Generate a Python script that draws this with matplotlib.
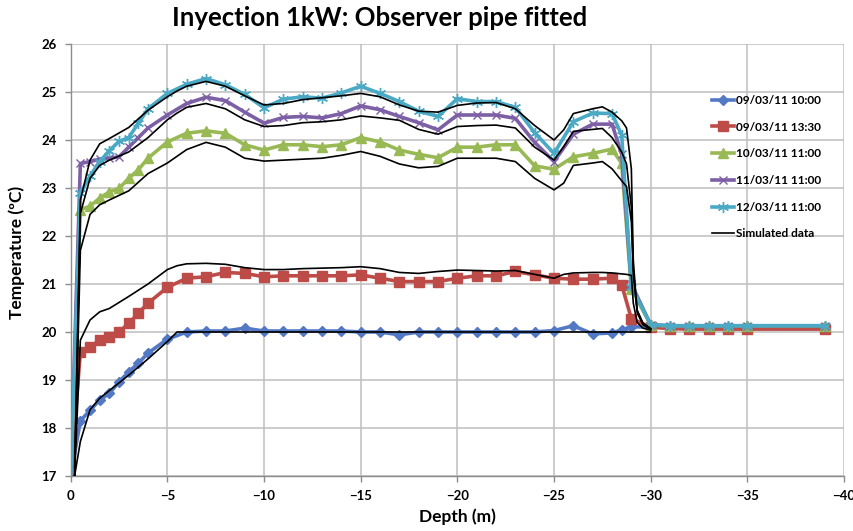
#!/usr/bin/env python3

import matplotlib
matplotlib.use('Agg')
import matplotlib.pyplot as plt

FONT = ['Lato', 'DejaVu Sans']

# measured depths (m) and temperatures (ºC)
DEPTH = [0, -0.5, -1, -1.5, -2, -2.5, -3, -3.5, -4,
         -5, -6, -7, -8, -9, -10, -11, -12, -13, -14, -15, -16, -17, -18,
         -19, -20, -21, -22, -23, -24, -25, -26, -27, -28,
         -28.5, -29,
         -30, -31, -32, -33, -34, -35, -39]

T_0903_1000 = [17.0, 18.15, 18.37, 18.58, 18.72, 18.96, 19.17, 19.35, 19.56,
               19.85, 20.0, 20.02, 20.02, 20.08, 20.02, 20.02, 20.02, 20.02, 20.02,
               20.0, 20.0, 19.94, 20.0, 20.0, 20.0, 20.0, 20.0, 20.0, 20.0,
               20.03, 20.13, 19.96, 19.98,
               20.04, 20.11,
               20.1, 20.1, 20.1, 20.1, 20.1, 20.1, 20.1]

T_0903_1330 = [17.0, 19.59, 19.69, 19.83, 19.9, 20.0, 20.18, 20.39, 20.6,
               20.93, 21.12, 21.15, 21.24, 21.22, 21.15, 21.17, 21.17, 21.17, 21.17,
               21.19, 21.12, 21.05, 21.05, 21.05, 21.12, 21.17, 21.17, 21.26, 21.19,
               21.12, 21.1, 21.1, 21.12,
               20.98, 20.28,
               20.1, 20.07, 20.06, 20.06, 20.06, 20.06, 20.06]

T_1003_1100 = [17.0, 22.55, 22.62, 22.79, 22.92, 22.99, 23.2, 23.38, 23.62,
               23.96, 24.14, 24.19, 24.14, 23.9, 23.79, 23.9, 23.9, 23.86, 23.9,
               24.05, 23.96, 23.79, 23.7, 23.63, 23.85, 23.85, 23.9, 23.9, 23.46,
               23.39, 23.65, 23.72, 23.81,
               23.51, 20.9,
               20.15, 20.12, 20.12, 20.12, 20.12, 20.12, 20.12]

T_1103_1100 = [17.0, 23.51, 23.55, 23.6, 23.62, 23.65, 23.85, 24.05, 24.25,
               24.52, 24.76, 24.89, 24.82, 24.58, 24.35, 24.47, 24.49, 24.46, 24.55,
               24.71, 24.63, 24.49, 24.36, 24.21, 24.52, 24.52, 24.52, 24.45, 23.95,
               23.55, 24.12, 24.33, 24.33,
               23.7, 21.0,
               20.15, 20.13, 20.13, 20.13, 20.13, 20.13, 20.13]

T_1203_1100 = [17.0, 22.89, 23.25, 23.55, 23.78, 23.97, 24.05, 24.35, 24.65,
               24.97, 25.16, 25.28, 25.15, 24.95, 24.67, 24.85, 24.9, 24.87, 24.98,
               25.12, 24.97, 24.8, 24.6, 24.49, 24.86, 24.8, 24.8, 24.68, 24.15,
               23.72, 24.38, 24.56, 24.55,
               24.1, 20.94,
               20.15, 20.13, 20.13, 20.13, 20.13, 20.13, 20.13]

# simulated profiles (the tails past -30 m sit under the measured lines)
SIM_DEPTH = [-0.2, -0.5, -1, -1.5, -2, -3, -4, -5, -5.5,
             -6, -7, -8, -9, -10, -11, -12, -13, -14, -15,
             -16, -17, -18, -19, -20, -21, -22, -23, -24, -25,
             -25.5, -26, -27, -27.5, -28, -28.5, -28.75,
             -29, -29.1, -29.3, -29.6, -30]

SIM_0903_1000 = [17.0, 17.72, 18.38, 18.62, 18.78, 19.1, 19.44, 19.8, 20.0,
                 20.0, 20.0, 20.0, 20.0, 20.0, 20.0, 20.0, 20.0, 20.0, 20.0,
                 20.0, 20.0, 20.0, 20.0, 20.0, 20.0, 20.0, 20.0, 20.0, 20.0,
                 20.0, 20.0, 20.0, 20.0, 20.0, 20.0, 20.0,
                 20.0, 20.0, 20.0, 20.0, 20.0]

SIM_0903_1330 = [17.0, 19.83, 20.25, 20.42, 20.49, 20.74, 21.0, 21.3, 21.38,
                 21.42, 21.43, 21.41, 21.34, 21.3, 21.3, 21.32, 21.33, 21.34, 21.36,
                 21.32, 21.24, 21.22, 21.26, 21.29, 21.28, 21.27, 21.28, 21.2, 21.12,
                 21.2, 21.23, 21.24, 21.24, 21.23, 21.21, 21.2,
                 21.18, 20.6, 20.2, 20.08, 20.04]

SIM_1003_1100 = [17.0, 21.7, 22.45, 22.65, 22.75, 22.94, 23.3, 23.52, 23.66,
                 23.8, 23.95, 23.85, 23.62, 23.56, 23.58, 23.6, 23.62, 23.68, 23.76,
                 23.66, 23.5, 23.42, 23.45, 23.62, 23.62, 23.62, 23.55, 23.2, 22.96,
                 23.1, 23.47, 23.52, 23.55, 23.4, 23.15, 23.03,
                 22.3, 21.2, 20.45, 20.18, 20.07]

SIM_1103_1100 = [17.0, 22.47, 23.2, 23.47, 23.58, 23.75, 24.05, 24.42, 24.56,
                 24.68, 24.76, 24.65, 24.42, 24.28, 24.3, 24.36, 24.38, 24.42, 24.5,
                 24.46, 24.41, 24.22, 24.12, 24.28, 24.3, 24.31, 24.25, 23.85, 23.58,
                 23.86, 24.18, 24.22, 24.24, 24.05, 23.75, 23.5,
                 22.6, 21.3, 20.45, 20.18, 20.07]

SIM_1203_1100 = [17.0, 22.75, 23.58, 23.92, 24.03, 24.26, 24.62, 24.9, 25.02,
                 25.12, 25.22, 25.12, 24.92, 24.73, 24.76, 24.84, 24.88, 24.92, 24.97,
                 24.9, 24.73, 24.6, 24.58, 24.72, 24.77, 24.78, 24.65, 24.3, 24.0,
                 24.21, 24.55, 24.65, 24.69, 24.58, 24.4, 24.25,
                 23.4, 21.5, 20.4, 20.15, 20.05]

LABELS = ['09/03/11 10:00', '09/03/11 13:30', '10/03/11 11:00',
          '11/03/11 11:00', '12/03/11 11:00']

SERIES = [
    # values, colour, marker, marker size
    (T_0903_1000, '#5479C4', 'D', 5),
    (T_0903_1330, '#BD4B48', 's', 6.5),
    (T_1003_1100, '#98B954', '^', 7.5),
    (T_1103_1100, '#7D5FA5', 'x', 6),
    (T_1203_1100, '#4AA9C4', (6, 2, 0), 8),
]

SIMS = [SIM_0903_1000, SIM_0903_1330, SIM_1003_1100, SIM_1103_1100, SIM_1203_1100]

GRID = '#BEBEBE'
AXIS = '#8C8C8C'


def main():
    fig = plt.figure(figsize=(8.54, 5.31), dpi=100)
    ax = fig.add_axes([0.0828, 0.1036, 0.9055, 0.8136])

    for (values, colour, marker, size), label in zip(SERIES, LABELS):
        ax.plot(DEPTH, values, color=colour, lw=2.6, marker=marker,
                markersize=size, markerfacecolor=colour, markeredgecolor=colour,
                markeredgewidth=1.0, markevery=slice(1, None), label=label,
                solid_joinstyle='round', zorder=3)

    for i, sim in enumerate(SIMS):
        ax.plot(SIM_DEPTH, sim, color='black', lw=1.2, zorder=4,
                label='Simulated data' if i == 0 else '_nolegend_')

    ax.set_xlim(0, -40)
    ax.set_ylim(17, 26)
    ax.set_xticks([0, -5, -10, -15, -20, -25, -30, -35, -40])
    ax.set_yticks(range(17, 27))
    ax.grid(True, color=GRID, lw=1.1)
    ax.set_axisbelow(True)

    for side in ('top', 'right'):
        ax.spines[side].set_visible(False)
    for side in ('left', 'bottom'):
        ax.spines[side].set_color(AXIS)
        ax.spines[side].set_linewidth(1.0)
    ax.tick_params(length=4, width=1.0, color=AXIS, pad=6)
    for lab in ax.get_xticklabels() + ax.get_yticklabels():
        lab.set_family(FONT)
        lab.set_fontweight('bold')
        lab.set_fontsize(9.5)

    ax.set_xlabel('Depth (m)', family=FONT, fontweight='bold', fontsize=12.5,
                  labelpad=5)
    fig.text(0.020, 1 - 252 / 531, 'Temperature (ºC)', family=FONT,
             fontweight='bold', fontsize=12.5, rotation=90,
             ha='center', va='center')

    fig.text(0.444, 0.967, 'Inyection 1kW: Observer pipe fitted', family=FONT,
             fontweight='bold', fontsize=18.5, ha='center', va='center')

    ax.legend(loc='upper left', bbox_to_anchor=(706 / 854, 1 - 89 / 531),
              bbox_transform=fig.transFigure, frameon=False,
              borderpad=0, handlelength=1.9, handletextpad=0.1,
              labelspacing=1.33, prop={'family': FONT, 'weight': 'bold',
                                       'size': 8.5})

    fig.savefig('out.png', dpi=100)


if __name__ == '__main__':
    main()
